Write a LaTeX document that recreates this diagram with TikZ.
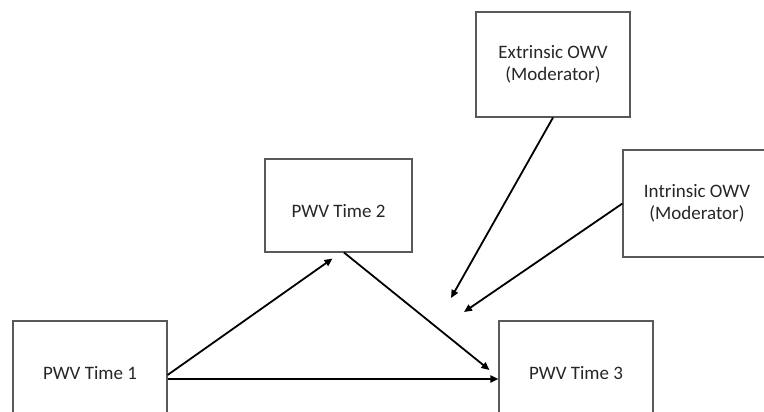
\documentclass[tikz,border=0pt]{standalone}
\usepackage{fontspec}
\setmainfont{Carlito}
\usetikzlibrary{arrows.meta,calc}
\begin{document}
\begin{tikzpicture}[x=1pt,y=-1pt,
  box/.style={draw=black!65,line width=1.1pt,rectangle,inner sep=0pt,align=center,
    font=\fontsize{19}{22}\selectfont,text=black!85},
  arr/.style={line width=1.8pt,-{Triangle[length=8pt,width=7pt]}}]
\useasboundingbox (0,0) rectangle (764,412);
\clip (0,0) rectangle (764,412);
\node[box,minimum width=154pt,minimum height=104pt] (t1) at (90,373) {PWV Time 1};
\node[box,minimum width=147pt,minimum height=93pt,
  label={[yshift=-6pt,font=\fontsize{19}{22}\selectfont,text=black!85]center:PWV Time 2}] (t2) at (338.5,205.5) {};
\node[box,minimum width=154pt,minimum height=104pt] (t3) at (576,373) {PWV Time 3};
\node[box,minimum width=154pt,minimum height=105pt] (ext) at (553,64.5) {Extrinsic OWV\\(Moderator)};
\node[box,minimum width=148pt,minimum height=107pt] (int) at (697,203.5) {Intrinsic OWV\\(Moderator)};
\coordinate (m1) at (451,298);
\coordinate (m2) at (464,312);
\draw[arr] ($(t1.east)+(0,6)$) -- ($(t3.west)+(0,6)$);
\draw[arr] ($(t1.east)+(0,2)$) -- ($(t2.south)+(-6,6)$);
\draw[arr] ($(t2.south)+(5.5,0)$) -- ($(t3.west)+(-9,-3)$);
\draw[arr] (ext.south) -- (m1);
\draw[arr] (int.west) -- (m2);
\end{tikzpicture}
\end{document}
